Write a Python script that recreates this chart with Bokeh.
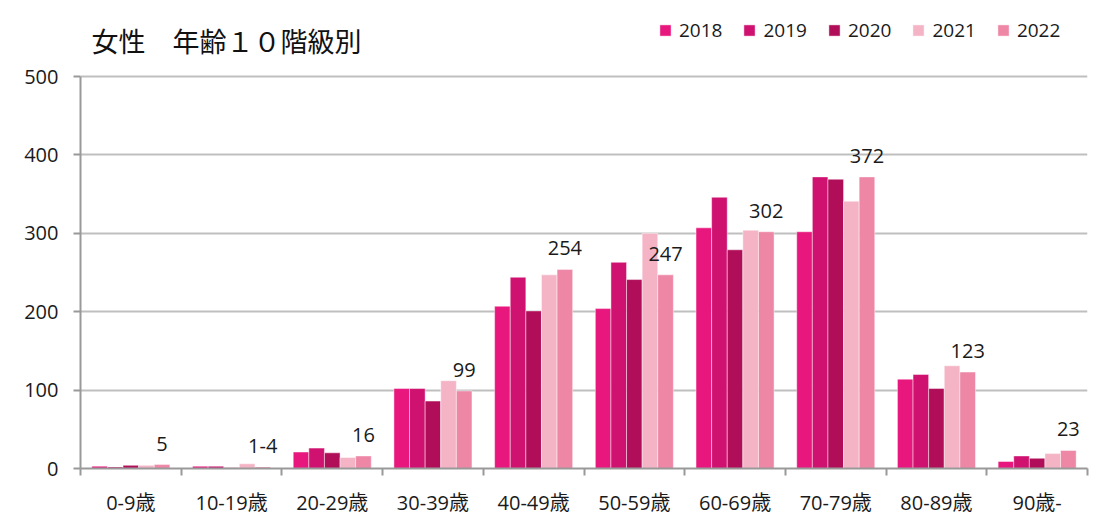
from bokeh.plotting import figure
from bokeh.models import Range1d, FixedTicker, Legend, LegendItem, Label
from bokeh.core.properties import value
from bokeh.embed import file_html
from bokeh.resources import INLINE

categories = ["0-9歳", "10-19歳", "20-29歳", "30-39歳", "40-49歳",
              "50-59歳", "60-69歳", "70-79歳", "80-89歳", "90歳-"]
years = ["2018", "2019", "2020", "2021", "2022"]
v2018 = [3, 3, 21, 102, 207, 204, 307, 302, 114, 9]
v2019 = [2, 3, 26, 102, 244, 263, 346, 372, 120, 16]
v2020 = [4, 1, 20, 86, 201, 241, 279, 369, 102, 13]
v2021 = [4, 6, 14, 112, 247, 300, 304, 341, 131, 19]
v2022 = [5, 2, 16, 99, 254, 247, 302, 372, 123, 23]
labels2022 = ["5", "1-4", "16", "99", "254", "247", "302", "372", "123", "23"]
colors = ["#E8177D", "#CF1270", "#B00E58", "#F4B4C6", "#EE86A6"]
y_ticks = [0, 100, 200, 300, 400, 500]
title_text = "女性　年齢１０階級別"

FONT = "'Open Sans', 'Noto Sans CJK JP'"
series = [v2018, v2019, v2020, v2021, v2022]
n = len(categories)
bw = 0.155

# frame spans the full height above the axis so that title & legend sit inside it;
# axis and grid are bounded to 0..500
p = figure(width=1104, height=529, output_backend="svg", toolbar_location=None,
           x_range=Range1d(0, n), y_range=Range1d(0, 597),
           min_border_left=80, min_border_right=17, min_border_top=0, min_border_bottom=61)
p.outline_line_color = None
p.background_fill_color = "white"
p.border_fill_color = "white"

renderers = []
for k, vals in enumerate(series):
    xs = [i + 0.5 + (k - 2) * bw for i in range(n)]
    r = p.vbar(x=xs, top=vals, width=bw, bottom=0, fill_color=colors[k],
               line_color="white", line_alpha=0.45, line_width=1)
    renderers.append(r)

x22 = [i + 0.5 + 2 * bw for i in range(n)]
p.text(x=x22, y=v2022, text=labels2022, text_align="center", text_baseline="bottom",
       y_offset=-14, text_font=value(FONT), text_font_size="20px", text_color="#1a1a1a")

# axes
p.xaxis.ticker = FixedTicker(ticks=[i + 0.5 for i in range(n)], minor_ticks=list(range(n + 1)))
p.xaxis.major_label_overrides = {i + 0.5: c for i, c in enumerate(categories)}
p.xaxis.major_tick_out = 0
p.xaxis.major_tick_in = 0
p.xaxis.minor_tick_out = 7
p.xaxis.minor_tick_in = 0
p.xaxis.minor_tick_line_color = "#999999"
p.xaxis.minor_tick_line_width = 2
p.xaxis.axis_line_color = "#999999"
p.xaxis.axis_line_width = 2
p.xaxis.major_label_standoff = 13
p.xaxis.major_label_text_font = FONT
p.xaxis.major_label_text_font_size = "20px"
p.xaxis.major_label_text_color = "#1a1a1a"

p.yaxis.ticker = FixedTicker(ticks=y_ticks, minor_ticks=[])
p.yaxis.bounds = (0, 500)
p.yaxis.major_tick_out = 7
p.yaxis.major_tick_in = 0
p.yaxis.major_tick_line_color = "#999999"
p.yaxis.major_tick_line_width = 2
p.yaxis.axis_line_color = "#999999"
p.yaxis.axis_line_width = 2
p.yaxis.major_label_standoff = 15
p.yaxis.major_label_text_font = FONT
p.yaxis.major_label_text_font_size = "20px"
p.yaxis.major_label_text_color = "#1a1a1a"

p.xgrid.visible = False
p.ygrid.bounds = (0, 500)
p.ygrid.grid_line_color = "#BFBFBF"
p.ygrid.grid_line_width = 2

legend = Legend(items=[LegendItem(label=y, renderers=[r]) for y, r in zip(years, renderers)],
                orientation="horizontal", location=(578, 425), padding=0, margin=0,
                spacing=20, glyph_width=14, glyph_height=14, label_standoff=7,
                label_text_font=FONT, label_text_font_size="19px", label_text_color="#1a1a1a",
                border_line_alpha=0, background_fill_alpha=0)
p.add_layout(legend, "center")

title = Label(x=11, y=428, x_units="screen", y_units="screen", text=title_text,
              text_font="Noto Sans CJK JP", text_font_size="27px", text_baseline="middle",
              text_color="#111111")
p.add_layout(title)

open("out.html", "w").write(file_html(p, INLINE))
